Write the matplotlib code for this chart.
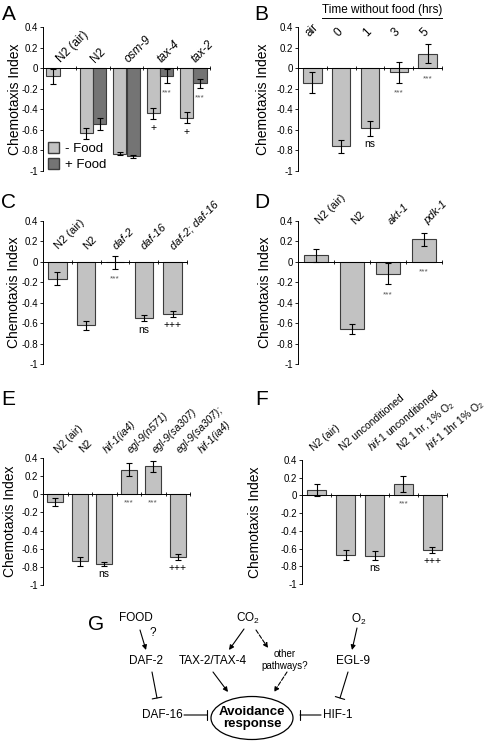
import numpy as np
import matplotlib.pyplot as plt
from matplotlib.patches import Ellipse, Patch
from matplotlib.transforms import offset_copy

plt.rcParams['font.family'] = ['Liberation Sans', 'DejaVu Sans']
plt.rcParams['mathtext.fontset'] = 'custom'
plt.rcParams['mathtext.rm'] = 'Liberation Sans'
plt.rcParams['mathtext.it'] = 'Liberation Sans:italic'
plt.rcParams['mathtext.bf'] = 'Liberation Sans:bold'

# ---- data ----
a_labels = ['N2 (air)', 'N2', 'osm-9', 'tax-4', 'tax-2']
a_italic = [False, False, True, True, True]
a_minus = [-0.08, -0.635, -0.83, -0.44, -0.48]
a_minus_err = [0.075, 0.05, 0.015, 0.055, 0.055]
a_minus_marks = ['', '', '', '+', '+']
a_plus = [np.nan, -0.545, -0.855, -0.075, -0.146]
a_plus_err = [np.nan, 0.06, 0.015, 0.07, 0.045]
a_plus_marks = ['', '', '', '***', '***']

b_labels = ['air', '0', '1', '3', '5']
b_vals = [-0.14, -0.76, -0.586, -0.04, 0.14]
b_err = [0.1, 0.065, 0.07, 0.1, 0.09]
b_marks = ['', '', 'ns', '***', '***']

c_labels = ['N2 (air)', 'N2', 'daf-2', 'daf-16', 'daf-2; daf-16']
c_italic = [False, False, True, True, True]
c_vals = [-0.163, -0.62, -0.005, -0.55, -0.51]
c_err = [0.065, 0.045, 0.065, 0.03, 0.025]
c_marks = ['', '', '***', 'ns', '+++']

d_labels = ['N2 (air)', 'N2', 'akt-1', 'pdk-1']
d_italic = [False, False, True, True]
d_vals = [0.065, -0.66, -0.115, 0.22]
d_err = [0.065, 0.05, 0.105, 0.06]
d_marks = ['', '', '***', '***']

e_labels = ['N2 (air)', 'N2', 'hif-1(ia4)', 'egl-9(n571)', 'egl-9(sa307)',
            'egl-9(sa307);\nhif-1(ia4)']
e_italic = [False, False, True, True, True, True]
e_vals = [-0.085, -0.74, -0.77, 0.27, 0.31, -0.69]
e_err = [0.045, 0.05, 0.025, 0.07, 0.06, 0.035]
e_marks = ['', '', 'ns', '***', '***', '+++']

f_labels = ['N2 (air)', 'N2 unconditioned', r'$\mathit{hif}$-$\mathit{1}$ unconditioned',
            r'N2 1 hr, 1% $\mathrm{O}_2$', r'$\mathit{hif}$-$\mathit{1}$ 1hr 1% $\mathrm{O}_2$']
f_italic = [False] * 5
f_vals = [0.064, -0.67, -0.68, 0.125, -0.62]
f_err = [0.07, 0.055, 0.05, 0.09, 0.035]
f_marks = ['', '', 'ns', '***', '+++']

W, H = 492, 742
fig = plt.figure(figsize=(W / 100, H / 100), dpi=100)


def rect(x0, y0, x1, y1):
    return [x0 / W, 1 - y1 / H, (x1 - x0) / W, (y1 - y0) / H]


LIGHT = '#c2c2c2'
DARK = '#747474'
EDGE = '#3c3c3c'
err_kw = dict(ecolor='black', elinewidth=0.8, capsize=2, capthick=0.8)


def setup(ax, n):
    ax.set_xlim(0, n)
    ax.set_ylim(-1, 0.4)
    for s in ['top', 'right']:
        ax.spines[s].set_visible(False)
    ax.spines['bottom'].set_position(('data', 0))
    for s in ['left', 'bottom']:
        ax.spines[s].set_linewidth(0.7)
    ax.set_xticks(np.arange(1, n + 1))
    ax.set_xticklabels([])
    ax.tick_params(axis='x', direction='inout', length=3, width=0.6)
    ax.set_yticks(np.linspace(-1, 0.4, 8))
    ax.set_yticklabels(['-1', '-0.8', '-0.6', '-0.4', '-0.2', '0', '0.2', '0.4'])
    ax.tick_params(axis='y', direction='out', length=2, width=0.6, labelsize=7, pad=1.5)


def cat_labels(ax, labels, italic, y, fs, rot=45, dx=-0.1):
    for i, lab in enumerate(labels):
        st = 'italic' if italic[i] else 'normal'
        lines = lab.split('\n')
        ax.text(i + 0.5 + dx, y, lines[0], rotation=rot, rotation_mode='anchor',
                ha='left', va='baseline', fontsize=fs, style=st, clip_on=False)
        if len(lines) > 1:
            tr = offset_copy(ax.transData, fig=fig, x=16, y=0, units='points')
            ax.text(i + 0.5 + dx, y, lines[1], rotation=rot, rotation_mode='anchor',
                    ha='left', va='baseline', fontsize=fs, style=st, clip_on=False,
                    transform=tr)


def marks(ax, xs, vals, errs, ms):
    for x, v, e, m in zip(xs, vals, errs, ms):
        if not m:
            continue
        low = min(0, v - e)
        if m == '***':
            ax.text(x, low - 0.1, m, ha='center', va='center', fontsize=6, color='#555555')
        else:
            ax.text(x, low - 0.085, m, ha='center', va='center', fontsize=7.5)


def simple_panel(box, labels, italic, vals, errs, ms, label_y, fs, rot=45, dx=-0.1, width=0.64):
    ax = fig.add_axes(rect(*box))
    n = len(vals)
    setup(ax, n)
    x = np.arange(n) + 0.5
    ax.bar(x, vals, width, color=LIGHT, edgecolor=EDGE, linewidth=0.8,
           yerr=errs, error_kw=err_kw, zorder=2)
    cat_labels(ax, labels, italic, label_y, fs, rot, dx)
    marks(ax, x, vals, errs, ms)
    return ax


# ---- panel A ----
axA = fig.add_axes(rect(43, 27, 210, 171))
setup(axA, 5)
xa = np.arange(5)
axA.bar(xa + 0.3, a_minus, 0.4, color=LIGHT, edgecolor=EDGE, linewidth=0.8,
        yerr=a_minus_err, error_kw=err_kw, zorder=2)
axA.bar(xa + 0.7, a_plus, 0.4, color=DARK, edgecolor=EDGE, linewidth=0.8,
        yerr=a_plus_err, error_kw=err_kw, zorder=2)
cat_labels(axA, a_labels, a_italic, 0.05, 8.5, dx=0.05)
marks(axA, xa + 0.3, a_minus, a_minus_err, a_minus_marks)
marks(axA, xa + 0.7, a_plus, a_plus_err, a_plus_marks)
axA.legend([Patch(facecolor=LIGHT, edgecolor=EDGE), Patch(facecolor=DARK, edgecolor=EDGE)],
           ['- Food', '+ Food'], loc='lower left', bbox_to_anchor=(0.03, 0.0),
           frameon=False, fontsize=9.5, handlelength=0.85, handleheight=0.85,
           handletextpad=0.4, labelspacing=0.25, borderpad=0, borderaxespad=0)

# ---- panel B ----
simple_panel((298, 27, 442, 171), b_labels, [False] * 5, b_vals, b_err, b_marks, 0.3, 8.5)
fig.text(382 / W, 1 - 10 / H, 'Time without food (hrs)', ha='center', va='center', fontsize=8.5)
fig.add_artist(plt.Line2D([322 / W, 442 / W], [1 - 18 / H, 1 - 18 / H], color='black', lw=0.7))

# ---- panels C, D ----
simple_panel((43, 221, 187, 364), c_labels, c_italic, c_vals, c_err, c_marks, 0.12, 8, dx=0.04)
simple_panel((298, 221, 442, 364), d_labels, d_italic, d_vals, d_err, d_marks, 0.36, 8, dx=0.1)

# ---- panels E, F ----
simple_panel((43, 458, 190, 585), e_labels, e_italic, e_vals, e_err, e_marks, 0.45, 7.5,
             dx=0.12, width=0.65)
simple_panel((302, 460, 447, 584), f_labels, f_italic, f_vals, f_err, f_marks, 0.5, 7.5,
             rot=40)

# y labels and panel letters
for xp, yp in [(15, 99), (263, 99), (14, 292), (265, 292), (10, 521), (255, 522)]:
    fig.text(xp / W, 1 - yp / H, 'Chemotaxis Index', rotation=90, ha='center', va='center', fontsize=10)
for lab, xp, yp in [('A', 9, 14), ('B', 261, 14), ('C', 8, 203), ('D', 262, 203),
                    ('E', 8, 400), ('F', 262, 400)]:
    fig.text(xp / W, 1 - yp / H, lab, ha='center', va='center', fontsize=15)

# ---- panel G: pathway diagram ----
axG = fig.add_axes(rect(0, 600, W, H))
axG.set_xlim(0, W)
axG.set_ylim(H, 600)
axG.axis('off')

axG.text(96, 625, 'G', ha='center', va='center', fontsize=15)
fs = 8.5
for txt, xp, yp in [('FOOD', 136, 618), ('?', 153, 633), ('DAF-2', 146, 661),
                    (r'CO$_2$', 248, 618), ('TAX-2/TAX-4', 213, 661),
                    (r'O$_2$', 359, 619), ('EGL-9', 353, 661),
                    ('DAF-16', 162, 715), ('HIF-1', 338, 715)]:
    axG.text(xp, yp, txt, ha='center', va='center', fontsize=fs)
axG.text(285, 660, 'other\npathways?', ha='center', va='center', fontsize=7, linespacing=1.25)
axG.add_patch(Ellipse((252, 718), 82, 43, fill=False, lw=0.9, edgecolor='black'))
axG.text(252, 718, 'Avoidance\nresponse', ha='center', va='center', fontsize=9.5,
         fontweight='bold', linespacing=1.1)

arrows = [((140, 630), (146, 650), '-'), ((244, 629), (229, 650), '-'),
          ((256, 630), (268, 648), '--'), ((357, 628), (352, 650), '-'),
          ((213, 672), (228, 692), '-'), ((287, 672), (274, 692), '--')]
for (x0, y0), (x1, y1), ls in arrows:
    axG.annotate('', xy=(x1, y1), xytext=(x0, y0),
                 arrowprops=dict(arrowstyle='-|>', lw=0.8, color='black', ls=ls,
                                 mutation_scale=7, shrinkA=0, shrinkB=0))
blocks = [((152, 672), (157, 698)), ((348, 672), (340, 698)),
          ((184, 715), (207, 715)), ((321, 715), (300, 715))]
for (x0, y0), (x1, y1) in blocks:
    axG.annotate('', xy=(x1, y1), xytext=(x0, y0),
                 arrowprops=dict(arrowstyle='-[, widthB=0.35, lengthB=0', lw=0.8,
                                 color='black', mutation_scale=10, shrinkA=0, shrinkB=0))

fig.savefig('out.png', dpi=100)
